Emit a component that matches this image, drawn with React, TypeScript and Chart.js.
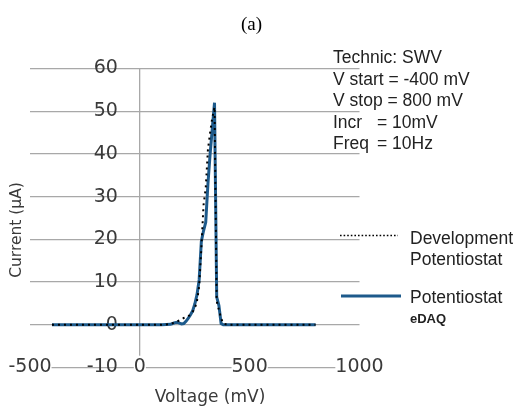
import React, { useEffect, useRef } from "react";
import { Chart, registerables } from "chart.js";

Chart.register(...registerables);

// ---- data ----
const voltages = [
  -400, -300, -200, -100, 0, 100, 140, 150, 160, 170, 180, 190, 200, 210, 220, 230, 240, 250,
  260, 270, 280, 290, 300, 310, 320, 330, 340, 350, 360, 370, 380, 400, 500, 600, 700, 800,
];
const developmentCurrent = [
  0, 0, 0, 0, 0, 0, 0.2, 0.4, 0.6, 0.8, 1.0, 1.3, 1.6, 1.8, 2.0, 2.4, 3.0, 3.8,
  5.5, 9, 18, 28, 32, 41, 45, 48.5, 51, 5.5, 3.5, 1.5, 0.3, 0, 0, 0, 0, 0,
];
const edaqCurrent = [
  0, 0, 0, 0, 0, 0, 0.1, 0.3, 0.5, 0.6, 0.4, 0.2, 0.3, 0.8, 1.5, 2.3, 3.2, 4.8,
  7, 10.5, 19.5, 22, 24, 33, 40, 46, 52, 6.5, 4.5, 0.3, 0, 0, 0, 0, 0, 0,
];
const xTickValues = [-500, 0, 500, 1000];
const yTickValues = [-10, 0, 10, 20, 30, 40, 50, 60];
const titleText = "(a)";
const xAxisTitle = "Voltage (mV)";
const yAxisTitle = "Current (µA)";
const infoLines = ["Technic: SWV", "V start = -400 mV", "V stop = 800 mV"];
const infoPairs = [
  ["Incr", "= 10mV"],
  ["Freq", "= 10Hz"],
];
const devLegend = ["Development", "Potentiostat"];
const edaqLegend = ["Potentiostat", "eDAQ"];

const BLUE = "#1d5a8b";
const GRID = "#a8a8a8";
const TEXT = "#3a3a3a";

const overlayPlugin = {
  id: "overlay",
  afterDraw(chart: any) {
    const ctx: CanvasRenderingContext2D = chart.ctx;
    ctx.save();
    // title
    ctx.fillStyle = "#000";
    ctx.font = '19px "Liberation Serif"';
    ctx.textAlign = "center";
    ctx.textBaseline = "middle";
    ctx.fillText(titleText, 251.5, 25);

    // axis titles
    ctx.fillStyle = TEXT;
    ctx.font = '17px "DejaVu Sans"';
    ctx.fillText(xAxisTitle, 210, 398);
    ctx.save();
    ctx.translate(17, 230);
    ctx.rotate(-Math.PI / 2);
    ctx.font = '15.5px "DejaVu Sans"';
    ctx.fillText(yAxisTitle, 0, 0);
    ctx.restore();

    // info block
    ctx.textAlign = "left";
    ctx.textBaseline = "alphabetic";
    ctx.font = '17.5px "Liberation Sans"';
    ctx.fillStyle = "#222";
    const base = 63;
    const step = 21.6;
    infoLines.forEach((t, i) => ctx.fillText(t, 333, base + i * step));
    infoPairs.forEach((p, i) => {
      const y = base + (infoLines.length + i) * step;
      ctx.fillText(p[0], 333, y);
      ctx.fillText(p[1], 377, y);
    });

    // legend
    ctx.strokeStyle = "#000";
    ctx.lineWidth = 1.6;
    ctx.setLineDash([1.6, 2]);
    ctx.beginPath();
    ctx.moveTo(340, 235.5);
    ctx.lineTo(398, 235.5);
    ctx.stroke();
    ctx.setLineDash([]);
    ctx.strokeStyle = BLUE;
    ctx.lineWidth = 3;
    ctx.beginPath();
    ctx.moveTo(341, 296);
    ctx.lineTo(401, 296);
    ctx.stroke();

    ctx.fillStyle = "#222";
    ctx.font = '17.5px "Liberation Sans"';
    ctx.fillText(devLegend[0], 410, 244);
    ctx.fillText(devLegend[1], 410, 265);
    ctx.fillText(edaqLegend[0], 410, 303);
    ctx.font = 'bold 13px "Liberation Sans"';
    ctx.fillText(edaqLegend[1], 410, 323);
    ctx.restore();
  },
};

export default function App() {
  const ref = useRef<HTMLCanvasElement | null>(null);

  useEffect(() => {
    if (!ref.current) return;
    const devPoints = voltages.map((v, i) => ({ x: v, y: developmentCurrent[i] }));
    const edaqPoints = voltages.map((v, i) => ({ x: v, y: edaqCurrent[i] }));
    const tickFont = { family: "DejaVu Sans", size: 19 };
    const chart = new Chart(ref.current, {
      type: "line",
      data: {
        datasets: [
          {
            label: "Development Potentiostat",
            data: devPoints,
            borderColor: "#000",
            borderWidth: 2,
            borderDash: [2, 4],
            pointRadius: 0,
            tension: 0,
            fill: false,
          },
          {
            label: "Potentiostat eDAQ",
            data: edaqPoints,
            borderColor: BLUE,
            borderWidth: 3,
            pointRadius: 0,
            tension: 0,
            fill: false,
          },
        ],
      },
      options: {
        animation: false,
        responsive: false,
        layout: { padding: { left: 30, right: 159.5, top: 68.5, bottom: 41.5 } },
        plugins: { legend: { display: false }, tooltip: { enabled: false }, title: { display: false } },
        scales: {
          x: {
            type: "linear",
            position: "bottom",
            min: -500,
            max: 1000,
            afterFit: (s: any) => {
              s.height = 0;
            },
            afterBuildTicks: (s: any) => {
              s.ticks = xTickValues.map((v) => ({ value: v }));
            },
            grid: {
              display: true,
              drawTicks: false,
              lineWidth: 1.3,
              z: -1,
              color: (c: any) => (c.tick && c.tick.value === 0 ? GRID : "rgba(0,0,0,0)"),
            },
            border: { display: false },
            ticks: {
              mirror: true,
              padding: -11,
              font: tickFont,
              color: TEXT,
              maxRotation: 0,
              autoSkip: false,
              showLabelBackdrop: true,
              backdropColor: "#ffffff",
              backdropPadding: 0,
              callback: (v: any) => String(v),
            },
          },
          y: {
            type: "linear",
            position: { x: -100 } as any,
            min: -10,
            max: 60,
            afterBuildTicks: (s: any) => {
              s.ticks = yTickValues.map((v) => ({ value: v }));
            },
            grid: { color: GRID, lineWidth: 1.3, drawTicks: false, z: -1 },
            border: { display: false },
            ticks: { padding: 0, font: tickFont, color: TEXT, callback: (v: any) => String(v) },
          },
        },
      } as any,
      plugins: [overlayPlugin],
    });
    return () => chart.destroy();
  }, []);

  return (
    <div style={{ position: "fixed", left: 0, top: 0, width: 519, height: 409, background: "#fff" }}>
      <canvas ref={ref} width={519} height={409} style={{ display: "block", width: 519, height: 409 }} />
    </div>
  );
}
